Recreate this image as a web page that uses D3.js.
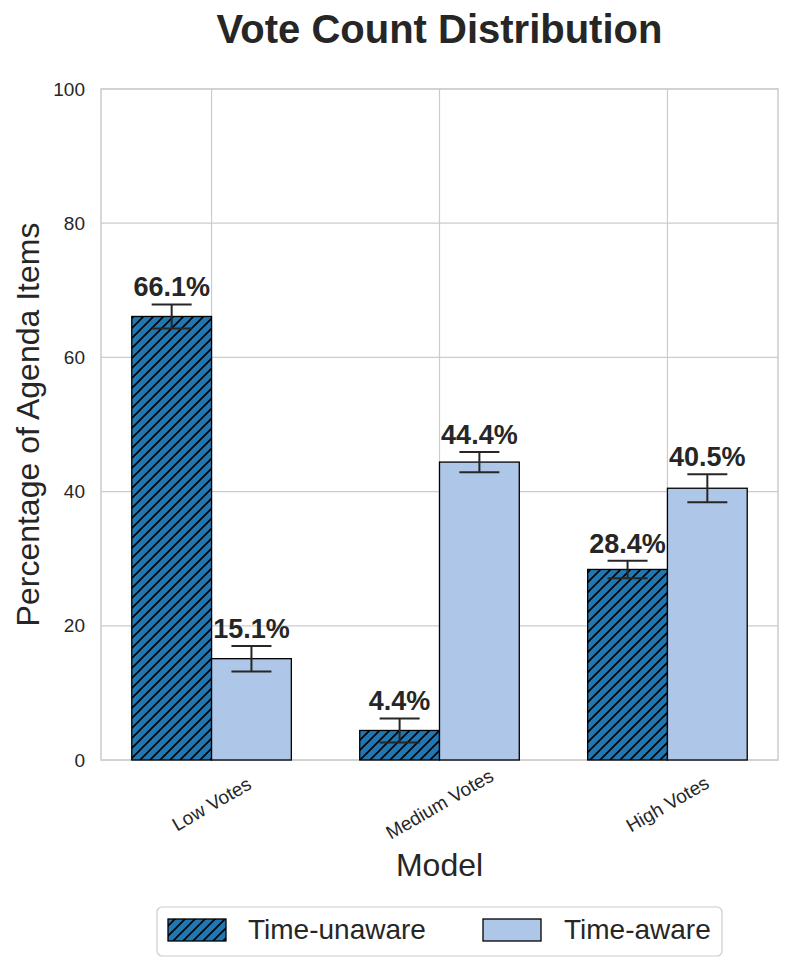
<!DOCTYPE html>
<html>
<head>
<meta charset="utf-8">
<script src="https://cdn.jsdelivr.net/npm/d3@7"></script>
<style>
  body { margin: 0; background: #fff; }
  text { font-family: "Liberation Sans", Arial, sans-serif; fill: #262626; }
</style>
</head>
<body>
<div id="chart"></div>
<script>
const categories = ["Low Votes", "Medium Votes", "High Votes"];
const seriesNames = ["Time-unaware", "Time-aware"];
const unawareValues = [66.1, 4.4, 28.4];
const awareValues = [15.1, 44.4, 40.5];
const unawareErrors = [1.8, 1.8, 1.3];
const awareErrors = [1.9, 1.5, 2.1];
const yTicks = [0, 20, 40, 60, 80, 100];

const W = 792, H = 971;
const margin = {left: 101, right: 14, top: 89, bottom: 211};

const svg = d3.select('#chart')
  .append('svg')
  .attr('width', W)
  .attr('height', H);

// hatch pattern "///"
const defs = svg.append('defs');
const pat = defs.append('pattern')
  .attr('id', 'hatch')
  .attr('patternUnits', 'userSpaceOnUse')
  .attr('width', 10)
  .attr('height', 10);
pat.append('rect').attr('width', 10).attr('height', 10).attr('fill', '#1f77b4');
pat.append('path')
  .attr('d', 'M-2,12 L12,-2 M-2,2 L2,-2 M8,12 L12,8')
  .attr('stroke', '#000')
  .attr('stroke-width', 1.6);

// x in data units (0,1,2), bar width 0.35
const barW = 0.35;
const x = d3.scaleLinear()
  .domain([-0.485, 2.485])
  .range([margin.left, W - margin.right]);
const y = d3.scaleLinear()
  .domain([0, 100])
  .range([H - margin.bottom, margin.top]);

const g = svg.append('g');

// grid
g.selectAll('.hgrid')
  .data(yTicks)
  .enter()
  .append('line')
  .attr('x1', x.range()[0])
  .attr('x2', x.range()[1])
  .attr('y1', d => y(d))
  .attr('y2', d => y(d))
  .attr('stroke', '#cccccc')
  .attr('stroke-width', 1.2);

g.selectAll('.vgrid')
  .data(categories)
  .enter()
  .append('line')
  .attr('x1', (d, i) => x(i))
  .attr('x2', (d, i) => x(i))
  .attr('y1', y(0))
  .attr('y2', y(100))
  .attr('stroke', '#cccccc')
  .attr('stroke-width', 1.2);

// frame
g.append('rect')
  .attr('x', x.range()[0])
  .attr('y', y(100))
  .attr('width', x.range()[1] - x.range()[0])
  .attr('height', y(0) - y(100))
  .attr('fill', 'none')
  .attr('stroke', '#cccccc')
  .attr('stroke-width', 1.5);

const series = [
  {name: seriesNames[0], values: unawareValues, errs: unawareErrors, fill: 'url(#hatch)', off: -barW / 2},
  {name: seriesNames[1], values: awareValues, errs: awareErrors, fill: '#aec7e8', off: barW / 2}
];

series.forEach(s => {
  const rows = s.values.map((v, i) => ({v: v, e: s.errs[i], i: i}));

  g.selectAll(null)
    .data(rows)
    .enter()
    .append('rect')
    .attr('x', d => x(d.i + s.off - barW / 2))
    .attr('y', d => y(d.v))
    .attr('width', x(barW) - x(0))
    .attr('height', d => y(0) - y(d.v))
    .attr('fill', s.fill)
    .attr('stroke', '#000')
    .attr('stroke-width', 1.3);

  // error bars
  const cap = 20;
  const eb = g.selectAll(null)
    .data(rows)
    .enter()
    .append('g')
    .attr('stroke', '#262626')
    .attr('stroke-width', 2);
  eb.append('line')
    .attr('x1', d => x(d.i + s.off)).attr('x2', d => x(d.i + s.off))
    .attr('y1', d => y(d.v - d.e)).attr('y2', d => y(d.v + d.e));
  eb.append('line')
    .attr('x1', d => x(d.i + s.off) - cap).attr('x2', d => x(d.i + s.off) + cap)
    .attr('y1', d => y(d.v + d.e)).attr('y2', d => y(d.v + d.e));
  eb.append('line')
    .attr('x1', d => x(d.i + s.off) - cap).attr('x2', d => x(d.i + s.off) + cap)
    .attr('y1', d => y(d.v - d.e)).attr('y2', d => y(d.v - d.e));

  // value labels
  g.selectAll(null)
    .data(rows)
    .enter()
    .append('text')
    .attr('x', d => x(d.i + s.off))
    .attr('y', d => y(d.v + d.e) - 8)
    .attr('text-anchor', 'middle')
    .style('font-size', '27px')
    .style('font-weight', 'bold')
    .text(d => d.v.toFixed(1) + '%');
});

// y axis
const yAxis = d3.axisLeft(y).tickValues(yTicks).tickSize(0).tickPadding(16);
const ya = svg.append('g')
  .attr('transform', `translate(${x.range()[0]},0)`)
  .call(yAxis);
ya.select('.domain').remove();
ya.selectAll('text')
  .style('font-size', '19px')
  .style('font-family', '"Liberation Sans", Arial, sans-serif')
  .attr('fill', '#262626');

// x tick labels, rotated 30 degrees and centred on the tick
const xa = svg.append('g');
xa.selectAll('text')
  .data(categories)
  .enter()
  .append('text')
  .attr('transform', (d, i) => `translate(${x(i)},${y(0) + 44}) rotate(-30)`)
  .attr('text-anchor', 'middle')
  .attr('dy', '0.35em')
  .style('font-size', '19px')
  .text(d => d);

// titles
svg.append('text')
  .attr('x', (x.range()[0] + x.range()[1]) / 2)
  .attr('y', 43)
  .attr('text-anchor', 'middle')
  .style('font-size', '40px')
  .style('font-weight', 'bold')
  .text('Vote Count Distribution');

svg.append('text')
  .attr('x', (x.range()[0] + x.range()[1]) / 2)
  .attr('y', 876)
  .attr('text-anchor', 'middle')
  .style('font-size', '32px')
  .text('Model');

svg.append('text')
  .attr('transform', `translate(39,${(y(0) + y(100)) / 2}) rotate(-90)`)
  .attr('text-anchor', 'middle')
  .style('font-size', '32px')
  .text('Percentage of Agenda Items');

// legend
const leg = svg.append('g').attr('transform', 'translate(157,907)');
leg.append('rect')
  .attr('width', 565)
  .attr('height', 49)
  .attr('rx', 5)
  .attr('fill', '#fff')
  .attr('stroke', '#cccccc')
  .attr('stroke-width', 1.2);
const legItems = [
  {name: seriesNames[0], fill: 'url(#hatch)', x: 11, tx: 91},
  {name: seriesNames[1], fill: '#aec7e8', x: 326, tx: 407}
];
legItems.forEach(it => {
  leg.append('rect')
    .attr('x', it.x)
    .attr('y', 12)
    .attr('width', 58)
    .attr('height', 22)
    .attr('fill', it.fill)
    .attr('stroke', '#000')
    .attr('stroke-width', 1.3);
  leg.append('text')
    .attr('x', it.tx)
    .attr('y', 32)
    .style('font-size', '28px')
    .text(it.name);
});
</script>
</body>
</html>
